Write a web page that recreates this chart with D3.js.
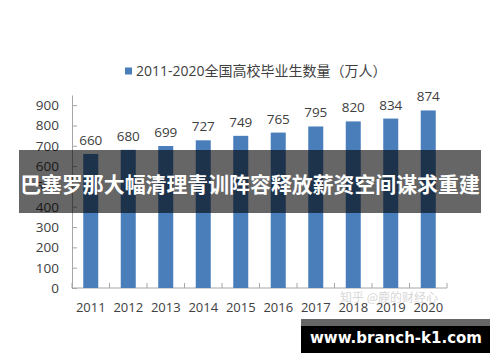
<!DOCTYPE html>
<html>
<head>
<meta charset="utf-8">
<script src="https://cdn.jsdelivr.net/npm/d3@7"></script>
<style>
  html, body { margin: 0; padding: 0; background: #fff; }
  svg { display: block; }
</style>
</head>
<body>
<svg width="500" height="362"></svg>
<script>
var years = ['2011', '2012', '2013', '2014', '2015', '2016', '2017', '2018', '2019', '2020'];
var graduates = [660, 680, 699, 727, 749, 765, 795, 820, 834, 874];
var yTicks = [0, 100, 200, 300, 400, 500, 600, 700, 800, 900];
var legendLabel = '2011-2020全国高校毕业生数量（万人）';
var bannerText = '巴塞罗那大幅清理青训阵容释放薪资空间谋求重建';
var siteText = 'www.branch-k1.com';
var watermark = '知乎 @鹿的财经心';

var barColor = '#4a7ebb';
var axisColor = '#a6a6a6';
var textColor = '#404040';
var font = '"Open Sans", "Noto Sans CJK SC", sans-serif';

var svg = d3.select('svg');

// scales
var xScale = d3.scaleBand()
  .domain(years)
  .range([72, 447])
  .paddingInner(0.6)
  .paddingOuter(0.3);

var yScale = d3.scaleLinear()
  .domain([0, 950])
  .range([288, 95]);

// y axis, ticks point inward
var yAxis = d3.axisLeft(yScale)
  .tickValues(yTicks)
  .tickSizeInner(-5)
  .tickSizeOuter(0)
  .tickPadding(13);

var gy = svg.append('g')
  .attr('transform', 'translate(72,0)')
  .call(yAxis);
gy.select('.domain').attr('stroke', axisColor);
gy.selectAll('.tick line').attr('stroke', axisColor);
gy.selectAll('.tick text')
  .attr('fill', textColor)
  .style('font', '13.5px ' + font);

// x axis line and boundary ticks
var step = xScale.step();
var gap = step - xScale.bandwidth();
var bounds = years.map(d => xScale(d) - gap / 2).concat([xScale(years[years.length - 1]) + xScale.bandwidth() + gap / 2]);

svg.append('line')
  .attr('x1', 72).attr('x2', bounds[bounds.length - 1])
  .attr('y1', yScale(0)).attr('y2', yScale(0))
  .attr('stroke', axisColor);

svg.selectAll('.xtick')
  .data(bounds)
  .enter().append('line')
  .attr('x1', d => d).attr('x2', d => d)
  .attr('y1', yScale(0)).attr('y2', yScale(0) - 5)
  .attr('stroke', axisColor);

svg.selectAll('.year')
  .data(years)
  .enter().append('text')
  .attr('x', d => xScale(d) + xScale.bandwidth() / 2)
  .attr('y', yScale(0) + 24)
  .attr('text-anchor', 'middle')
  .attr('fill', textColor)
  .style('font', '13px ' + font)
  .text(d => d);

// bars
svg.selectAll('.bar')
  .data(graduates)
  .enter().append('rect')
  .attr('x', (d, i) => xScale(years[i]))
  .attr('y', d => yScale(d))
  .attr('width', xScale.bandwidth())
  .attr('height', d => yScale(0) - yScale(d))
  .attr('fill', barColor);

svg.selectAll('.val')
  .data(graduates)
  .enter().append('text')
  .attr('x', (d, i) => xScale(years[i]) + xScale.bandwidth() / 2)
  .attr('y', d => yScale(d) - 9)
  .attr('text-anchor', 'middle')
  .attr('fill', textColor)
  .style('font', '13.5px ' + font)
  .text(d => d);

// legend
svg.append('rect')
  .attr('x', 125).attr('y', 67.5)
  .attr('width', 7).attr('height', 7)
  .attr('fill', barColor);
svg.append('text')
  .attr('x', 136).attr('y', 76)
  .attr('fill', textColor)
  .style('font', '14px ' + font)
  .text(legendLabel);

// faint watermark
svg.append('text')
  .attr('x', 340).attr('y', 302)
  .attr('fill', '#c8c8c8')
  .attr('opacity', 0.7)
  .style('font', '12px "Noto Sans CJK SC", sans-serif')
  .text(watermark);

// overlay banner
svg.append('rect')
  .attr('x', 19).attr('y', 150)
  .attr('width', 462).attr('height', 63)
  .attr('fill', '#000')
  .attr('opacity', 0.6);
svg.append('text')
  .attr('x', 250).attr('y', 192)
  .attr('text-anchor', 'middle')
  .attr('fill', '#fff')
  .style('font', 'bold 20.9px "Noto Sans CJK SC", sans-serif')
  .text(bannerText);

// site box
svg.append('rect')
  .attr('x', 301).attr('y', 319)
  .attr('width', 189).attr('height', 34)
  .attr('fill', '#000');
svg.append('rect')
  .attr('x', 301).attr('y', 319)
  .attr('width', 189).attr('height', 7)
  .attr('fill', '#666');
svg.append('text')
  .attr('x', 396).attr('y', 343)
  .attr('text-anchor', 'middle')
  .attr('fill', '#fff')
  .style('font', 'bold 15px "DejaVu Sans", sans-serif')
  .text(siteText);
</script>
</body>
</html>
